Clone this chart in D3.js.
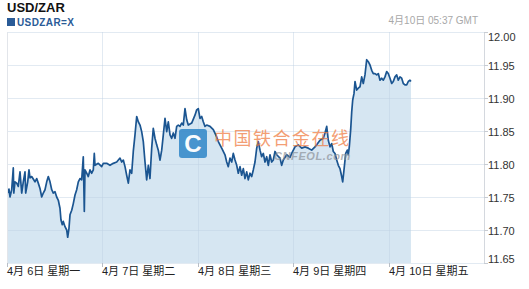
<!DOCTYPE html>
<html>
<head>
<meta charset="utf-8">
<script src="https://cdn.jsdelivr.net/npm/d3@7"></script>
<style>
  body { margin: 0; background: #fff; }
  svg { display: block; font-family: "Liberation Sans", Arial, "Noto Sans CJK SC", sans-serif; }
</style>
</head>
<body>
<svg id="main-svg"></svg>
<script>
// --- data (hours after 6 Apr 2015 00:00 GMT, USD/ZAR rate) ---
const hours = [
  0.18,0.5,0.75,1.18,1.58,1.71,2.01,2.44,2.84,3.27,3.70,4.10,4.53,4.70,5.21,5.53,5.79,6.21,7.04,7.47,
  7.87,8.30,8.73,9.13,9.56,9.99,10.39,10.82,11.25,11.65,12.08,12.50,12.91,13.33,13.58,13.91,14.16,14.59,15.02,15.27,
  15.60,15.85,16.28,16.68,17.11,17.53,17.94,18.36,18.79,19.19,19.45,19.62,20.05,20.45,20.88,21.31,21.71,21.96,22.14,22.97,
  23.82,
  24.23,25.08,25.91,26.74,27.60,28.43,28.85,29.26,29.69,30.11,30.52,30.94,31.37,31.77,32.20,32.63,33.03,33.46,33.88,34.29,
  34.72,35.14,35.55,35.97,36.40,36.80,37.23,37.66,38.06,38.49,38.92,39.32,39.75,40.18,40.58,41.01,41.43,41.84,42.26,42.69,
  43.09,43.52,43.95,44.35,44.78,45.21,45.61,46.46,47.29,47.72,
  48.12,48.55,48.98,49.38,49.81,50.24,51.07,51.90,52.75,53.16,53.58,54.01,54.84,55.27,55.67,56.10,56.53,56.93,57.36,57.79,
  58.19,58.62,59.04,59.45,59.87,60.30,60.70,61.13,61.56,61.96,62.39,62.82,63.22,63.65,64.07,64.48,64.90,65.33,65.74,66.16,
  66.59,66.99,67.42,67.85,68.68,69.10,69.51,70.36,71.19,
  71.62,72.45,73.28,74.14,74.97,75.80,76.65,77.48,77.91,78.74,79.57,80.00,80.43,80.83,81.26,81.68,82.09,82.52,82.94,83.35,
  83.77,84.20,84.45,84.78,85.21,85.61,85.86,86.11,86.46,86.72,86.97,87.30,87.55,87.97,88.38,88.80,89.23,89.63,90.06,90.49,
  90.89,91.32,91.75,92.15,92.58,93.01,93.41,93.84,94.26,94.67,95.09,95.52,95.92,96.35,96.78,97.18,97.61,98.04,98.44,98.87,
  99.29,99.70,100.12,100.55,100.95,101.38,101.62
];
const rates = [
  11.756,11.762,11.750,11.761,11.794,11.756,11.773,11.771,11.766,11.788,11.756,11.773,11.788,11.756,11.773,11.791,11.779,11.781,11.773,11.778,
  11.771,11.763,11.750,11.756,11.761,11.773,11.781,11.773,11.761,11.756,11.758,11.750,11.745,11.733,11.715,11.708,11.713,11.705,11.700,11.689,
  11.703,11.723,11.730,11.740,11.753,11.761,11.773,11.778,11.776,11.811,11.728,11.791,11.786,11.781,11.791,11.786,11.791,11.816,11.798,11.801,
  11.796,
  11.801,11.801,11.798,11.801,11.803,11.809,11.803,11.806,11.796,11.783,11.771,11.791,11.786,11.819,11.844,11.872,11.864,11.859,11.849,11.834,
  11.803,11.776,11.798,11.778,11.824,11.854,11.839,11.829,11.821,11.806,11.821,11.844,11.869,11.849,11.864,11.844,11.839,11.847,11.839,11.857,
  11.859,11.857,11.862,11.859,11.884,11.867,11.859,11.862,11.874,11.882,
  11.884,11.869,11.872,11.864,11.857,11.859,11.857,11.852,11.841,11.834,11.829,11.824,11.814,11.803,11.796,11.809,11.803,11.816,11.806,11.798,
  11.786,11.796,11.783,11.793,11.778,11.788,11.776,11.786,11.781,11.791,11.803,11.824,11.834,11.821,11.811,11.816,11.803,11.811,11.798,11.814,
  11.803,11.806,11.819,11.814,11.809,11.798,11.806,11.814,11.810,
  11.816,11.826,11.829,11.824,11.826,11.824,11.821,11.826,11.829,11.836,11.839,11.847,11.857,11.836,11.826,11.831,11.819,11.816,11.806,11.798,
  11.793,11.781,11.773,11.791,11.816,11.821,11.814,11.826,11.852,11.879,11.897,11.907,11.925,11.912,11.915,11.917,11.932,11.922,11.935,11.958,
  11.955,11.950,11.942,11.937,11.937,11.935,11.937,11.927,11.930,11.927,11.932,11.940,11.937,11.930,11.922,11.925,11.932,11.935,11.927,11.932,
  11.930,11.922,11.920,11.920,11.925,11.927,11.925
];
const dayLabels = ["4月 6日 星期一", "4月 7日 星期二", "4月 8日 星期三", "4月 9日 星期四", "4月 10日 星期五"];
const yTicks = [11.65, 11.70, 11.75, 11.80, 11.85, 11.90, 11.95, 12.00];
const title = "USD/ZAR";
const symbol = "USDZAR=X";
const stamp = "4月10日 05:37 GMT";

// --- setup ---
const width = 529, height = 289;
const svg = d3.select("#main-svg").attr("width", width).attr("height", height);
svg.append("rect").attr("width", width).attr("height", height).attr("fill", "#fff");

const plot = {left: 7, right: 484, top: 32, bottom: 263};
const t0 = Date.UTC(2015, 3, 6);
const data = hours.map((h, i) => ({t: new Date(t0 + h * 3600e3), v: rates[i]}));

const x = d3.scaleUtc()
    .domain([new Date(t0), new Date(Date.UTC(2015, 3, 11))])
    .range([plot.left, plot.right]);
const y = d3.scaleLinear().domain([11.65, 12.00]).range([plot.bottom, plot.top]);
const days = d3.utcDay.range(new Date(t0), new Date(Date.UTC(2015, 3, 11)));

// --- area + line ---
const area = d3.area().x(d => x(d.t)).y0(y(11.65)).y1(d => y(d.v));
svg.append("path").datum(data).attr("d", area).attr("fill", "#d6e6f2");

// gridlines over the fill
const grid = svg.append("g").attr("stroke", "rgb(190,208,226)").attr("stroke-opacity", 0.45);
grid.selectAll("line.h").data(yTicks).enter().append("line")
    .attr("x1", plot.left).attr("x2", plot.right)
    .attr("y1", d => Math.round(y(d)) + 0.5).attr("y2", d => Math.round(y(d)) + 0.5);
grid.selectAll("line.v").data(days.slice(1)).enter().append("line")
    .attr("x1", d => Math.round(x(d)) + 0.5).attr("x2", d => Math.round(x(d)) + 0.5)
    .attr("y1", plot.top).attr("y2", plot.bottom);

svg.append("path").datum(data)
    .attr("d", d3.line().x(d => x(d.t)).y(d => y(d.v)))
    .attr("fill", "none").attr("stroke", "#1b5591").attr("stroke-width", 1.7)
    .attr("stroke-linejoin", "round");

// frame
svg.append("line").attr("x1", plot.left + 0.5).attr("x2", plot.left + 0.5)
    .attr("y1", plot.top).attr("y2", plot.bottom).attr("stroke", "#e2e5ea");
svg.append("line").attr("x1", plot.right + 0.5).attr("x2", plot.right + 0.5)
    .attr("y1", plot.top).attr("y2", plot.bottom).attr("stroke", "#d4d8de");

// --- y axis (right) ---
const yAxis = svg.append("g").attr("font-size", 11).attr("fill", "#333");
yTicks.forEach((v, i) => {
  const yy = Math.round(y(v)) + 0.5;
  yAxis.append("line").attr("x1", plot.right).attr("x2", plot.right + 4)
      .attr("y1", yy).attr("y2", yy).attr("stroke", "#c8ccd2");
  const shift = i === yTicks.length - 1 ? 8 : (i === 0 ? -1 : 4);
  yAxis.append("text").attr("x", plot.right + 4).attr("y", yy + shift)
      .text(d3.format(".2f")(v));
});

// --- x axis ---
const xAxis = svg.append("g").attr("font-size", 11).attr("fill", "#222");
days.forEach((d, i) => {
  const xx = Math.round(x(d)) + 0.5;
  xAxis.append("line").attr("x1", xx).attr("x2", xx)
      .attr("y1", plot.bottom).attr("y2", plot.bottom + 4).attr("stroke", "#b8bec6");
  xAxis.append("text").attr("x", xx - 0.5).attr("y", 275).text(dayLabels[i]);
});

// --- watermark ---
const wm = svg.append("g").attr("opacity", 0.85);
wm.append("rect").attr("x", 179).attr("y", 129).attr("width", 28).attr("height", 29)
    .attr("rx", 3).attr("fill", "#2f86c8");
wm.append("text").attr("x", 193).attr("y", 152).attr("text-anchor", "middle")
    .attr("font-size", 24).attr("font-weight", "bold").attr("fill", "#fff").text("C");
wm.append("text").attr("x", 214).attr("y", 145).attr("font-size", 18)
    .attr("letter-spacing", 1.5).attr("fill", "#f07a3e").attr("fill-opacity", 0.85)
    .text("中国铁合金在线");
wm.append("text").attr("x", 274).attr("y", 160).attr("font-size", 11)
    .attr("font-weight", "bold").attr("font-style", "italic").attr("letter-spacing", 0.6)
    .attr("fill", "#8a8f96").attr("fill-opacity", 0.8).text("CNFEOL.com");

// --- header ---
svg.append("text").attr("x", 7).attr("y", 12).attr("font-size", 13)
    .attr("font-weight", "bold").attr("fill", "#111").text(title);
svg.append("rect").attr("x", 7).attr("y", 18).attr("width", 8).attr("height", 8).attr("fill", "#2a5b97");
svg.append("text").attr("x", 17).attr("y", 26).attr("font-size", 10)
    .attr("font-weight", "bold").attr("letter-spacing", 0.4).attr("fill", "#2a5b97").text(symbol);
svg.append("text").attr("x", 478).attr("y", 24).attr("text-anchor", "end")
    .attr("font-size", 10).attr("fill", "#a8a8a8").text(stamp);
</script>
</body>
</html>
